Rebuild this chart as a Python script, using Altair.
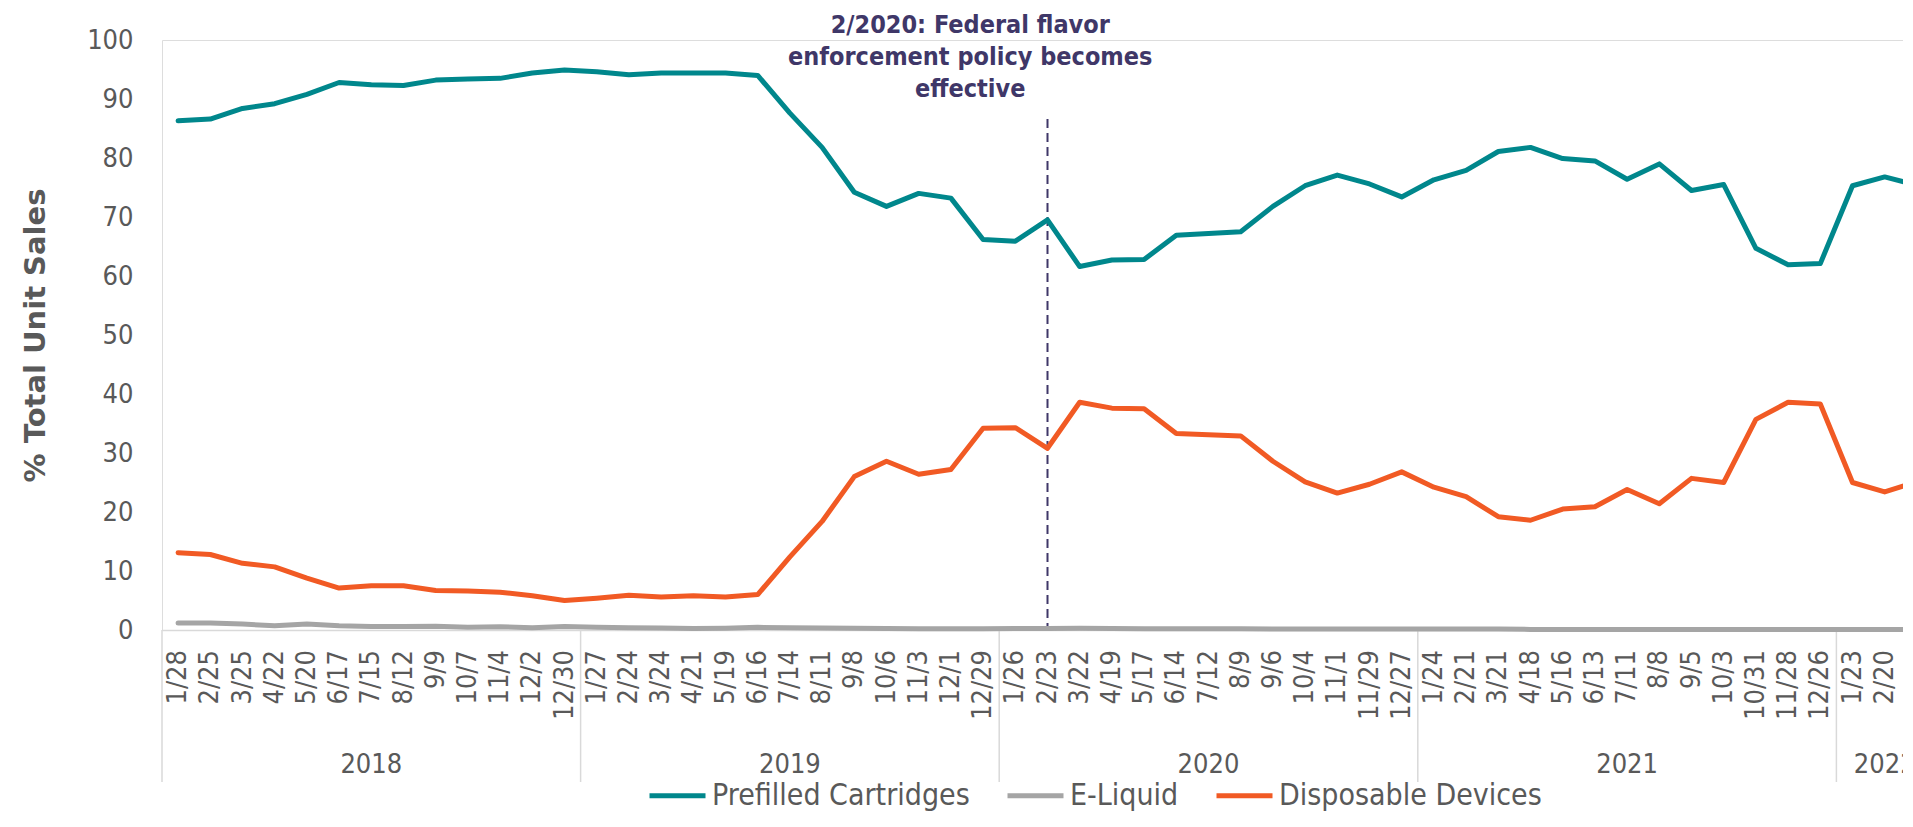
import altair as alt
import pandas as pd

# ---------------- data ----------------
date_labels = [
    "1/28", "2/25", "3/25", "4/22", "5/20", "6/17", "7/15", "8/12", "9/9", "10/7", "11/4", "12/2", "12/30",
    "1/27", "2/24", "3/24", "4/21", "5/19", "6/16", "7/14", "8/11", "9/8", "10/6", "11/3", "12/1", "12/29",
    "1/26", "2/23", "3/22", "4/19", "5/17", "6/14", "7/12", "8/9", "9/6", "10/4", "11/1", "11/29", "12/27",
    "1/24", "2/21", "3/21", "4/18", "5/16", "6/13", "7/11", "8/8", "9/5", "10/3", "10/31", "11/28", "12/26",
    "1/23", "2/20", "3/20",
]
year_names = ["2018", "2019", "2020", "2021", "2022"]
year_sizes = [13, 13, 13, 13, 3]

series_names = ["Prefilled Cartridges", "E-Liquid", "Disposable Devices"]
series_colors = ["#00878C", "#A5A5A5", "#F15A24"]

prefilled = [
    86.3, 86.6, 88.4, 89.2, 90.8, 92.8, 92.4, 92.3, 93.2, 93.4, 93.5, 94.4, 94.9,
    94.6, 94.1, 94.4, 94.4, 94.4, 94.0, 87.6, 81.8, 74.2, 71.8, 74.0, 73.2, 66.2,
    65.9, 69.5, 61.6, 62.7, 62.8, 66.9, 67.2, 67.5, 71.8, 75.3, 77.1, 75.6, 73.4,
    76.3, 77.9, 81.1, 81.8, 79.9, 79.5, 76.4, 79.0, 74.5, 75.5, 64.7, 61.9, 62.1,
    75.3, 76.8, 75.4,
]
eliquid = [
    1.2, 1.2, 1.0, 0.7, 1.0, 0.7, 0.6, 0.6, 0.65, 0.45, 0.55, 0.4, 0.6,
    0.45, 0.4, 0.35, 0.25, 0.3, 0.45, 0.4, 0.35, 0.3, 0.25, 0.2, 0.2, 0.2,
    0.25, 0.25, 0.3, 0.25, 0.2, 0.2, 0.2, 0.2, 0.15, 0.15, 0.15, 0.15, 0.15,
    0.15, 0.15, 0.15, 0.1, 0.1, 0.1, 0.1, 0.1, 0.1, 0.1, 0.1, 0.1, 0.1,
    0.1, 0.1, 0.1,
]
disposable = [
    13.1, 12.8, 11.3, 10.7, 8.8, 7.1, 7.5, 7.5, 6.7, 6.6, 6.4, 5.8, 5.0,
    5.4, 5.9, 5.6, 5.8, 5.6, 6.0, 12.4, 18.4, 26.0, 28.6, 26.4, 27.2, 34.2,
    34.3, 30.8, 38.6, 37.6, 37.5, 33.3, 33.1, 32.9, 28.6, 25.1, 23.2, 24.7, 26.8,
    24.2, 22.6, 19.2, 18.6, 20.5, 20.9, 23.8, 21.4, 25.7, 25.0, 35.7, 38.6, 38.3,
    25.0, 23.4, 25.1,
]

policy_index = 27          # 2/23 of 2020
policy_top = 86.6
annotation_lines = ["2/2020: Federal flavor", "enforcement policy becomes", "effective"]
annotation_pos = {"idx": 24.6, "value": 102.5}

# ---------------- build tables ----------------
n = len(date_labels)
rows = []
for name, vals in zip(series_names, [prefilled, eliquid, disposable]):
    for i, v in enumerate(vals):
        rows.append({"idx": i, "label": date_labels[i], "series": name, "value": v})
df = pd.DataFrame(rows)
tick_df = pd.DataFrame({"idx": list(range(n)), "label": date_labels})

starts = []
s = 0
for sz in year_sizes:
    starts.append(s)
    s += sz
year_df = pd.DataFrame({
    "year": year_names,
    "idx": [st + (sz - 1) / 2 for st, sz in zip(starts, year_sizes)],
})
sep_df = pd.DataFrame({"idx": [st - 0.5 for st in starts]})

FONT = "DejaVu Sans Condensed, DejaVu Sans, sans-serif"
GREY_TXT = "#595959"
PURPLE = "#3F3768"

PLOT_W = 1741
BAND = 32.2
x_scale = alt.Scale(domain=[-0.5, -0.5 + PLOT_W / BAND], nice=False, zero=False)
y_scale = alt.Scale(domain=[0, 100], nice=False)

lines = alt.Chart(df).mark_line(strokeWidth=5, strokeCap="round", strokeJoin="round").encode(
    x=alt.X("idx:Q", scale=x_scale, axis=alt.Axis(
        labels=False, ticks=False, grid=False, domainColor="#D9D9D9", domainWidth=1.5, title=None)),
    y=alt.Y("value:Q", scale=y_scale, axis=alt.Axis(
        values=list(range(0, 101, 10)), labelFontSize=27, labelFont=FONT, labelColor=GREY_TXT,
        labelPadding=29, ticks=False, grid=False, domain=False,
        title="% Total Unit Sales", titleFont="DejaVu Sans", titleFontSize=29,
        titleFontWeight="bold", titleColor=GREY_TXT, titleAngle=270,
        titleX=-127, titleY=295, titleAlign="center", titleBaseline="middle")),
    color=alt.Color("series:N", scale=alt.Scale(domain=series_names, range=series_colors),
                    legend=alt.Legend(title=None, orient="none", legendX=485, legendY=725,
                                      direction="horizontal", symbolType="stroke",
                                      symbolSize=3136, symbolStrokeWidth=5,
                                      labelFont=FONT, labelFontSize=30, labelColor=GREY_TXT,
                                      labelOffset=4, columnPadding=27, padding=0, labelLimit=0)),
)

tick_labels = alt.Chart(tick_df).mark_text(
    font=FONT, fontSize=27, color=GREY_TXT, angle=270, align="right", baseline="middle").encode(
    x="idx:Q", y=alt.value(610), text="label:N")

rule_df = pd.DataFrame({"idx": [policy_index], "value": [policy_top], "bottom": [0]})
policy_rule = alt.Chart(rule_df).mark_rule(strokeDash=[9, 5], strokeWidth=2, color=PURPLE).encode(
    x="idx:Q", y="value:Q", y2="bottom:Q")

ann_df = pd.DataFrame({"idx": [annotation_pos["idx"]], "value": [annotation_pos["value"]],
                       "text": ["\n".join(annotation_lines)]})
annotation = alt.Chart(ann_df).mark_text(
    font=FONT, fontSize=25, fontWeight="bold", color=PURPLE, lineHeight=32,
    align="center", baseline="middle", lineBreak="\n").encode(
    x="idx:Q", y="value:Q", text="text:N")

years = alt.Chart(year_df).mark_text(font=FONT, fontSize=27, color=GREY_TXT, baseline="middle").encode(
    x="idx:Q", y=alt.value(725), text="year:N")

seps = alt.Chart(sep_df).mark_rule(color="#D9D9D9", strokeWidth=1.5).encode(
    x="idx:Q", y=alt.value(590), y2=alt.value(742))

chart = alt.layer(seps, policy_rule, lines, tick_labels, annotation, years).properties(
    width=PLOT_W, height=590, autosize="none",
    padding={"left": 154, "top": 32, "right": 0, "bottom": 183},
).configure_view(stroke=None).configure(background="white")

chart.save("out.html", embed_options={"renderer": "svg", "actions": False})
